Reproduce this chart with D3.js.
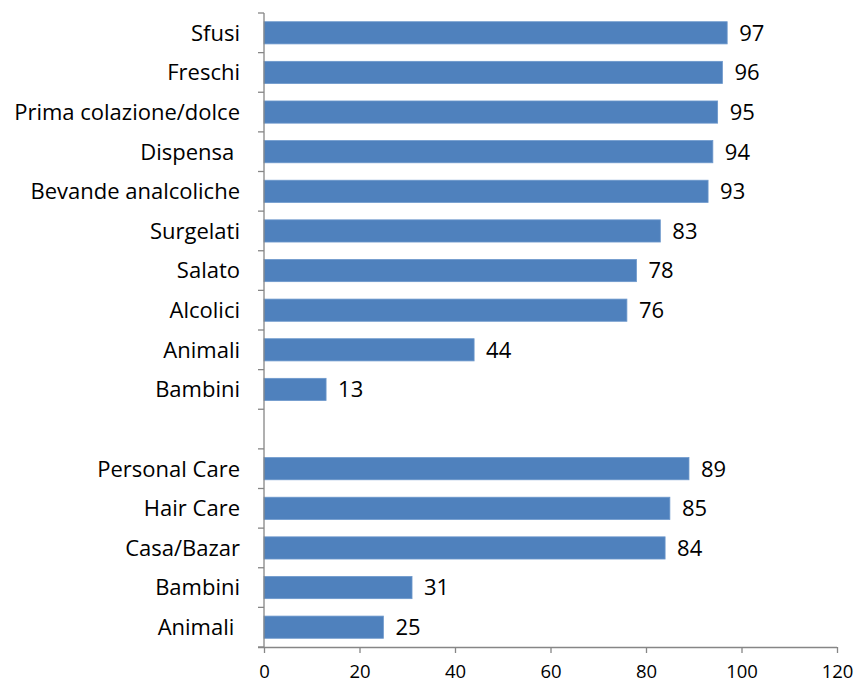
<!DOCTYPE html>
<html>
<head>
<meta charset="utf-8">
<script src="https://cdn.jsdelivr.net/npm/d3@7"></script>
<style>
  html, body { margin: 0; padding: 0; background: #fff; }
  svg text { font-family: "Open Sans", Lato, sans-serif; fill: #000; white-space: pre; }
</style>
</head>
<body>
<svg id="chart" width="856" height="683"></svg>
<script>
// Category labels, top to bottom; an empty label leaves a blank slot between the two groups
const categories = [
  "Sfusi", "Freschi", "Prima colazione/dolce", "Dispensa ", "Bevande analcoliche",
  "Surgelati", "Salato", "Alcolici", "Animali", "Bambini",
  "",
  "Personal Care", "Hair Care", "Casa/Bazar", "Bambini", "Animali "
];
const values = [97, 96, 95, 94, 93, 83, 78, 76, 44, 13, null, 89, 85, 84, 31, 25];
const xTicks = [0, 20, 40, 60, 80, 100, 120];

const rows = categories.map((c, i) => ({ key: "r" + i, label: c, value: values[i] }));

const svg = d3.select("#chart");
const margin = { left: 264, right: 19, top: 13, bottom: 36 };
const W = 856, H = 683;

const x = d3.scaleLinear().domain([0, 120]).range([margin.left, W - margin.right]);
const y = d3.scaleBand()
  .domain(rows.map(d => d.key))
  .range([margin.top, H - margin.bottom])
  .paddingInner(0.44)
  .paddingOuter(0.22);

const axisColor = "#868686";
const step = y.step();

// Bars
svg.append("g").selectAll("rect")
  .data(rows.filter(d => d.value != null))
  .join("rect")
  .attr("x", x(0))
  .attr("y", d => y(d.key))
  .attr("width", d => x(d.value) - x(0))
  .attr("height", y.bandwidth())
  .attr("fill", "#4F81BD")
  .attr("stroke", "#6d98cc")
  .attr("stroke-width", 0.8);

// Value labels
svg.append("g").selectAll("text")
  .data(rows.filter(d => d.value != null))
  .join("text")
  .attr("x", d => x(d.value) + 12)
  .attr("y", d => y(d.key) + y.bandwidth() / 2)
  .attr("dy", "0.36em")
  .attr("font-size", 22)
  .text(d => d.value);

// Vertical category axis with ticks at slot boundaries
const yAxis = svg.append("g");
const plotTop = y.range()[0], plotBottom = y.range()[1];
yAxis.append("line")
  .attr("x1", x(0)).attr("x2", x(0))
  .attr("y1", plotTop).attr("y2", plotBottom)
  .attr("stroke", axisColor).attr("stroke-width", 1.3);
const boundaries = rows.map(d => y(d.key) - step * y.paddingInner() / 2).concat([plotBottom]);
yAxis.selectAll("line.tick")
  .data(boundaries)
  .join("line")
  .attr("class", "tick")
  .attr("x1", x(0) - 6).attr("x2", x(0))
  .attr("y1", d => d).attr("y2", d => d)
  .attr("stroke", axisColor).attr("stroke-width", 1.3);
yAxis.selectAll("text")
  .data(rows)
  .join("text")
  .attr("x", x(0) - 24)
  .attr("y", d => y(d.key) + y.bandwidth() / 2)
  .attr("dy", "0.36em")
  .attr("text-anchor", "end")
  .attr("font-size", 22)
  .text(d => d.label);

// Horizontal value axis
const xAxis = svg.append("g")
  .attr("transform", `translate(0,${plotBottom})`)
  .call(d3.axisBottom(x).tickValues(xTicks).tickSize(6).tickPadding(14).tickFormat(d3.format("d")));
xAxis.selectAll("path, line").attr("stroke", axisColor).attr("stroke-width", 1.3);
xAxis.select(".domain").attr("d", `M${x(0) - 6},0.5H${x(120)}`);
xAxis.selectAll("text")
  .attr("dy", null)
  .attr("y", 31)
  .attr("font-size", 18.5)
  .attr("font-family", "'Open Sans', Lato, sans-serif")
  .attr("fill", "#000");
</script>
</body>
</html>
